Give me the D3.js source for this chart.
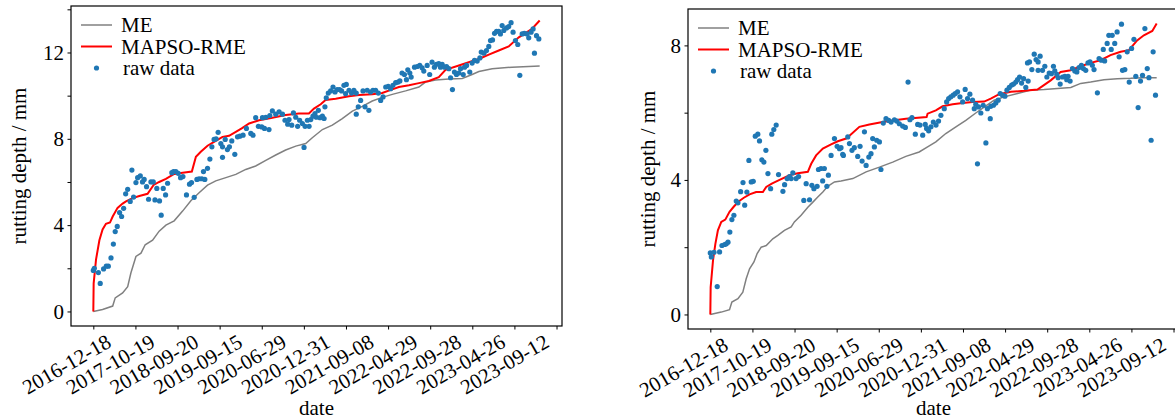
<!DOCTYPE html>
<html>
<head>
    <meta charset="utf-8">
    <title>Rutting depth</title>
    <script src="https://cdn.jsdelivr.net/npm/d3@7/dist/d3.min.js"></script>
    <style>
        body { margin: 0; background: #fff; }
    </style>
</head>
<body>
<div class="chart-area"></div>
<script type="text/javascript">
    // x axis is the sample index, labelled with dates
    var lastIndex = 265;
    var tickIdx = [0, 25, 50, 75, 100, 125, 150, 175, 200, 225, 250, 275];
    var dateLabels = ['2016-12-18', '2017-10-19', '2018-09-20', '2019-09-15', '2020-06-29', '2020-12-31',
                      '2021-09-08', '2022-04-29', '2022-09-28', '2023-04-26', '2023-09-12'];
    var labelSpan = [15, 275];   // index range the date labels are spread over
    var seriesNames = ['ME', 'MAPSO-RME', 'raw data'];

    // ---- left panel ----
    var leftME = [[0,0],[5.5,0.09],[11.5,0.25],[13,0.63],[17.4,0.86],[20.4,1.15],[22.3,1.78],[25.3,2.55],[28.3,2.7],
        [30.8,3.09],[35.2,3.3],[39.1,3.72],[43.1,4.0],[48,4.2],[53,4.65],[57.9,5.13],[62.8,5.5],[67.8,5.85],[72.7,6.05],
        [78.7,6.2],[84.6,6.35],[90.5,6.58],[96.4,6.74],[102.4,7.0],[108.3,7.25],[114.2,7.48],[120.2,7.66],[126.1,7.78],
        [130,8.05],[136,8.43],[141.9,8.63],[147.8,8.94],[153.8,9.28],[159.7,9.5],[165.6,9.75],[171.5,9.92],[177.5,10.06],
        [185.4,10.22],[193.3,10.4],[197.2,10.63],[203.2,10.72],[211.1,10.77],[219,10.8],[224.9,10.98],[228.9,11.12],
        [236.8,11.25],[248.6,11.32],[265,11.37]];
    var leftRME = [[0,0],[0.2,1.3],[1.6,2.4],[3.6,3.3],[5.5,3.8],[7.5,4.06],[9.9,4.12],[11.5,4.4],[14.4,4.8],[17.4,5.0],
        [19.4,5.1],[23.3,5.25],[27.3,5.35],[32.2,5.45],[35.8,5.86],[39.1,6.0],[43.1,6.14],[48,6.37],[53,6.43],[58.5,6.48],
        [60.9,7.17],[63.8,7.4],[67.8,7.68],[71.7,7.86],[76.7,8.09],[80.6,8.14],[84.6,8.32],[88.1,8.48],[92.5,8.71],
        [98.4,8.86],[106.3,8.98],[114.2,9.1],[122,9.17],[128,9.17],[131,9.4],[135,9.6],[137.9,9.8],[143.9,9.86],
        [151.8,9.97],[157.7,10.03],[165.6,10.06],[171.5,10.12],[177.5,10.29],[181.4,10.4],[187.4,10.48],[193.3,10.58],
        [199.2,10.68],[205.1,10.86],[209.1,11.2],[217,11.4],[222.9,11.55],[228.9,11.7],[234.8,11.9],[240.7,12.09],
        [246.6,12.28],[252.6,12.7],[256.5,12.9],[260.5,13.1],[265,13.48]];
    var leftRaw = [[0,1.9],[0.6,2.0],[3,1.8],[4.1,1.3],[6.1,1.97],[7.7,2.1],[8.9,2.1],[10.5,2.48],[11.9,3.12],[13,3.7],
        [14.2,3.94],[15.6,4.58],[16.8,4.4],[18,4.78],[19.2,5.45],[20.4,5.66],[21.9,5.1],[22.9,6.55],[23.9,5.3],[25.3,5.97],
        [26.3,6.2],[27.9,6.28],[29.2,6.0],[30.2,6.12],[31.6,5.78],[32.8,5.2],[34.2,6.0],[35.6,6.0],[36.6,5.17],[37.7,5.7],
        [39.3,5.12],[40.3,4.46],[41.5,5.7],[42.9,5.4],[44.1,5.94],[46.6,6.43],[47.6,6.48],[49,6.48],[50.4,6.4],[51.8,6.2],
        [53.2,6.25],[55.3,5.4],[57.1,5.9],[58.3,5.97],[59.9,5.29],[61.5,6.12],[62.8,6.15],[64.4,6.15],[65.4,6.48],
        [66.2,6.12],[67.8,6.63],[69.2,7.06],[70.4,7.63],[71.7,7.97],[72.9,8.0],[74.1,8.3],[75.7,7.78],[76.7,7.63],
        [76.7,7.14],[78.3,7.97],[79.6,7.5],[80.8,7.63],[82.2,7.9],[84,7.28],[85.6,8.09],[87,8.12],[88.9,8.17],[90.9,8.48],
        [93.5,8.25],[94.8,8.17],[96.4,8.98],[98,8.58],[100,8.55],[100.4,8.98],[101.6,8.48],[102.4,9.0],[104.3,8.43],
        [104.8,9.08],[106.3,9.29],[108.3,9.14],[110.3,9.25],[112.3,9.14],[113.8,8.86],[115.4,8.68],[116.2,8.89],
        [117.8,8.63],[118.8,9.2],[120.2,9.0],[121.3,8.58],[122.5,8.86],[124.1,8.71],[125.1,7.6],[125.7,8.58],[127.1,8.86],
        [128.1,8.58],[129.1,8.89],[130.4,9.05],[131.6,9.17],[132.4,9.0],[133.6,9.32],[134.6,8.98],[136,9.05],[137,8.94],
        [137.5,9.48],[138.3,9.9],[139.5,10.12],[140.9,10.22],[142.3,10.4],[143.5,10.17],[144.8,10.28],[146.2,10.28],
        [147.4,10.22],[148.8,10.48],[149.8,10.09],[150.2,10.52],[151.8,10.25],[153.3,10.12],[154.7,10.25],[156.1,10.12],
        [156.1,9.14],[157.3,9.48],[158.7,9.78],[160.1,10.22],[161.3,9.48],[162.6,10.25],[163.6,9.32],[164.6,10.17],
        [166,10.25],[167.6,10.25],[169.2,10.12],[170.6,9.78],[172,9.94],[173.6,10.4],[175.1,10.43],[176.5,10.32],
        [177.9,10.48],[179.5,10.6],[180.9,10.63],[182,10.68],[183.3,11.05],[184.7,10.98],[185.9,10.74],[186.7,11.2],
        [187.9,11.05],[188.7,10.86],[190.7,11.32],[192.3,11.35],[193.8,11.4],[195.2,11.29],[196.2,11.14],[198.2,11.4],
        [199.7,10.98],[201.1,11.55],[202.5,11.32],[203.7,11.45],[205.1,11.48],[206.1,11.32],[207.1,11.45],[208.5,11.32],
        [209.7,11.35],[211.1,11.25],[212.1,10.83],[213.2,10.28],[214.4,11.09],[215.6,10.98],[217,11.05],[218,11.25],
        [219.6,10.98],[220.4,11.32],[221.6,11.4],[223.5,11.09],[224.9,11.51],[226.3,11.63],[227.9,11.6],[229.5,11.75],
        [230.3,12.02],[231.9,11.97],[233.4,12.09],[234.8,12.28],[235.8,12.55],[237,12.58],[238.2,12.89],[239.4,12.98],
        [240.7,12.98],[241.7,12.86],[242.7,13.25],[243.7,13.02],[245.3,13.14],[246.6,13.2],[248,13.38],[249.2,12.94],
        [250.6,12.55],[252,12.37],[253.2,10.94],[254.6,12.86],[255.9,12.89],[257.5,12.86],[258.5,12.68],[259.9,12.94],
        [261.1,13.09],[261.9,11.97],[263.1,12.78],[264.5,12.63]];

    // ---- right panel ----
    var rightME = [[0,0],[6.5,0.07],[11.4,0.14],[12.8,0.37],[16.4,0.47],[19.3,0.66],[21.3,1.06],[23.3,1.36],[25.9,1.56],
        [27.8,1.81],[30.2,2.0],[33.2,2.05],[37.1,2.25],[40.1,2.35],[44,2.5],[48,2.6],[49.9,2.75],[53.9,2.95],[57.9,3.19],
        [60.9,3.34],[63.8,3.49],[66.8,3.64],[69.7,3.81],[73.7,3.94],[77.6,3.97],[84.6,4.04],[92.5,4.24],[100.4,4.38],
        [108.3,4.53],[116.1,4.7],[124,4.83],[129,4.98],[133.9,5.13],[139.8,5.38],[145.8,5.58],[151.7,5.77],[157.6,5.99],
        [163,6.18],[168.5,6.37],[174.5,6.47],[182.4,6.57],[190.3,6.67],[198.2,6.69],[206.1,6.72],[214,6.75],[219.9,6.87],
        [225.8,6.91],[233.7,6.98],[241.6,7.01],[249.5,7.02],[257.4,7.04],[265,7.04]];
    var rightRME = [[0,0],[0.2,0.81],[1.6,1.61],[3,2.1],[4.5,2.5],[6.5,2.75],[8.9,2.82],[11.4,3.05],[14,3.21],[16.8,3.36],
        [19.9,3.47],[23.3,3.57],[27.2,3.64],[31.2,3.64],[33.2,3.79],[36.5,3.89],[41.1,4.0],[47,4.14],[51.9,4.2],[57.9,4.24],
        [59.9,4.48],[62.8,4.73],[66.8,4.93],[71.7,5.06],[75.7,5.15],[80.6,5.23],[83.6,5.36],[88.5,5.58],[94.4,5.65],
        [102.3,5.72],[108.3,5.77],[116.1,5.82],[128.4,5.87],[129,5.97],[133.9,6.07],[137.9,6.19],[143.9,6.25],[149.8,6.29],
        [155.7,6.32],[162.6,6.33],[166.5,6.42],[171.5,6.55],[178.4,6.62],[186.3,6.65],[194.2,6.69],[197.2,6.79],[202.1,6.96],
        [208,7.21],[214,7.26],[219.9,7.38],[225.8,7.48],[231.7,7.56],[237.6,7.71],[243.6,7.81],[248.5,7.86],[253.4,8.15],
        [257.4,8.3],[262.4,8.43],[265,8.65]];
    var rightRaw = [[0,1.83],[0.6,1.71],[2.2,1.85],[4.1,0.83],[5.5,1.86],[6.9,2.05],[8.5,2.08],[9.5,2.1],[10.5,2.15],
        [11.6,2.45],[12.8,2.82],[14,2.95],[15.4,3.37],[16.4,3.32],[18,3.65],[19.4,3.92],[20.4,3.25],[21.7,3.64],[22.9,4.58],
        [24.3,3.94],[25.5,3.96],[26.7,5.3],[28.2,5.36],[29.2,5.16],[30.6,4.6],[31.8,4.53],[33,4.88],[34.2,4.19],[35.8,3.74],
        [36.5,5.36],[37.7,5.5],[39.1,5.63],[40.5,4.16],[43.1,3.66],[44.1,3.86],[45.6,4.04],[47,4.1],[48,4.04],[49,4.21],
        [50.9,4.04],[52.4,4.1],[55.5,3.39],[56.9,3.89],[58.9,3.41],[60.3,3.84],[61.5,3.74],[63.4,3.81],[64.2,4.31],
        [65.7,4.34],[66.7,3.97],[67.7,4.34],[69.2,3.81],[70.1,4.14],[71.7,4.73],[73.7,5.23],[75.3,5.0],[76.7,4.93],
        [77.6,4.96],[78.6,4.76],[79,4.73],[81.6,5.28],[82.6,5.08],[84.1,4.88],[85.5,4.96],[87.5,4.7],[88.9,5.0],[90.1,4.56],
        [91.5,5.43],[92.5,4.43],[94.1,4.68],[95.4,4.78],[96.4,5.23],[97.4,4.98],[98.8,5.18],[100.4,5.13],[101.3,4.31],
        [102.7,5.69],[104.3,5.82],[105.9,5.77],[107.3,5.72],[109.3,5.79],[110.7,5.75],[112.2,5.67],[114.2,5.6],[115.8,5.56],
        [117.4,6.91],[118.5,5.79],[119.7,5.85],[121.7,5.36],[123.1,5.65],[124.5,5.63],[126.1,5.33],[127.6,5.65],[128.4,5.53],
        [129.6,5.46],[131,5.58],[132.4,5.72],[134,5.63],[135.5,5.75],[136.9,5.92],[138.9,6.12],[140.3,6.32],[141.5,6.42],
        [142.8,6.47],[144.2,6.52],[145.4,6.57],[146.8,6.62],[148.2,6.47],[149.8,6.32],[151.3,6.69],[152.7,6.42],[154.1,6.55],
        [155.7,6.37],[156.7,6.12],[157.6,6.25],[158.6,4.48],[159.2,6.17],[160.6,5.99],[162,6.22],[163.6,5.1],[164.5,6.12],
        [166.2,5.82],[166.5,6.19],[168.1,6.22],[169.5,6.29],[170.9,6.37],[172.1,6.57],[173.5,6.52],[174.9,6.49],[176.1,6.67],
        [177.5,6.75],[178.9,6.82],[180,6.85],[181.4,6.91],[182.4,6.98],[183.6,7.06],[184.8,6.88],[186,7.01],[187.3,6.75],
        [188.3,7.48],[188.7,6.94],[189.5,7.51],[190.9,7.28],[192.3,7.74],[193.4,7.58],[194.6,7.51],[194.6,7.26],[195.8,7.68],
        [197.2,7.26],[198.6,7.38],[199.8,7.06],[201.2,7.18],[202.5,7.16],[203.7,7.38],[204.5,7.24],[205.7,7.14],[206.5,7.04],
        [207.7,6.85],[209.1,7.06],[210.5,7.08],[211.6,6.98],[212.4,7.08],[213.6,6.94],[215,7.31],[216.4,7.24],[217.6,7.21],
        [218.9,7.34],[220.3,7.41],[221.5,7.31],[222.9,7.26],[224.2,7.48],[225.4,7.51],[226.8,7.41],[227.8,7.28],[229.8,6.59],
        [230.8,7.61],[232.1,7.56],[233.3,7.88],[234.1,7.54],[235.6,8.06],[236.6,8.3],[238,7.88],[238.6,8.3],[240.1,8.06],
        [241.5,8.4],[242.7,7.66],[244.1,8.63],[244.7,7.26],[246.1,7.28],[247.5,7.81],[248.7,6.91],[250.1,7.91],[251.5,8.18],
        [252.6,7.08],[254,6.15],[255.4,6.94],[256.6,7.11],[258,8.5],[259.4,7.31],[260.4,7.04],[261.7,5.18],[262.9,7.81],
        [264.3,6.52]];

    var width = 491, height = 320;
    var serif = "'Liberation Serif', 'Times New Roman', 'DejaVu Serif', serif";

    var svg = d3.select(".chart-area")
        .append("svg")
        .attr("width", 1175)
        .attr("height", 420)
        .style("font-family", serif);

    function drawPanel(left, top, raw, me, rme, yTicks, labelOffset) {
        var ymax = d3.max(raw.concat(me, rme), function(d){ return d[1]; });
        var pad = 0.05 * ymax;

        var x = d3.scaleLinear()
            .domain([-0.05 * lastIndex, 1.05 * lastIndex])
            .range([0, width]);
        var y = d3.scaleLinear()
            .domain([-pad, ymax + pad])
            .range([height, 0]);
        var xLabel = d3.scalePoint()
            .domain(dateLabels)
            .range([x(labelSpan[0]), x(labelSpan[1])]);

        var g = svg.append("g")
            .attr("transform", "translate(" + left + "," + top + ")");

        var xAxis = g.append("g")
            .attr("transform", "translate(0," + height + ")")
            .call(d3.axisBottom(x).tickValues(tickIdx).tickSizeOuter(0).tickSize(3.5).tickFormat(""));
        xAxis.select(".domain").remove();
        xAxis.selectAll("line").attr("stroke", "#000").attr("stroke-width", 1);

        g.append("g")
            .attr("transform", "translate(0," + height + ")")
            .selectAll("text")
            .data(dateLabels)
            .enter()
            .append("text")
            .attr("text-anchor", "end")
            .attr("transform", function(d){ return "translate(" + (xLabel(d) - 6) + ",20) rotate(-30)"; })
            .style("font-size", "21px")
            .text(function(d){ return d; });

        var yAxis = g.append("g")
            .call(d3.axisLeft(y).tickValues(yTicks).tickSize(3.5).tickPadding(3.5)
                .tickFormat(function(d){ return d % 4 === 0 ? d : ""; }));
        yAxis.attr("font-family", null);
        yAxis.select(".domain").remove();
        yAxis.selectAll("line").attr("stroke", "#000").attr("stroke-width", 1);
        yAxis.selectAll("text").attr("fill", "#000")
            .style("font-family", serif)
            .style("font-size", "21px");

        g.append("text")
            .attr("transform", "translate(" + labelOffset + "," + (height / 2) + ") rotate(-90)")
            .attr("text-anchor", "middle")
            .attr("dy", "0.35em")
            .style("font-size", "21px")
            .text("rutting depth / mm");

        g.append("text")
            .attr("x", width / 2)
            .attr("y", 415 - top)
            .attr("text-anchor", "middle")
            .style("font-size", "21px")
            .text("date");

        var clipId = "clip" + left;
        g.append("clipPath").attr("id", clipId)
            .append("rect").attr("width", width).attr("height", height);

        var plot = g.append("g").attr("clip-path", "url(#" + clipId + ")");

        var line = d3.line()
            .x(function(d){ return x(d[0]); })
            .y(function(d){ return y(d[1]); });

        plot.append("path")
            .datum(me)
            .attr("d", line)
            .attr("fill", "none")
            .attr("stroke", "#808080")
            .attr("stroke-width", 1.5);

        plot.append("path")
            .datum(rme)
            .attr("d", line)
            .attr("fill", "none")
            .attr("stroke", "#ff0000")
            .attr("stroke-width", 2);

        plot.selectAll("circle")
            .data(raw)
            .enter()
            .append("circle")
            .attr("cx", function(d){ return x(d[0]); })
            .attr("cy", function(d){ return y(d[1]); })
            .attr("r", 2.6)
            .attr("fill", "#1f77b4");

        g.append("rect")
            .attr("width", width)
            .attr("height", height)
            .attr("fill", "none")
            .attr("stroke", "#000")
            .attr("stroke-width", 1.2);

        // legend
        var legend = g.append("g").attr("transform", "translate(10,19)");
        var rows = legend.selectAll("g")
            .data(seriesNames)
            .enter()
            .append("g")
            .attr("transform", function(d, i){ return "translate(0," + (i * 21.5) + ")"; });
        rows.filter(function(d, i){ return i < 2; })
            .append("line")
            .attr("x1", 0).attr("x2", 31)
            .attr("stroke", function(d, i){ return i === 0 ? "#808080" : "#ff0000"; })
            .attr("stroke-width", function(d, i){ return i === 0 ? 1.5 : 2; });
        rows.filter(function(d, i){ return i === 2; })
            .append("circle")
            .attr("cx", 15.5).attr("r", 2.6)
            .attr("fill", "#1f77b4");
        rows.append("text")
            .attr("x", function(d, i){ return i === 2 ? 42 : 40; })
            .attr("y", 7)
            .style("font-size", "21px")
            .text(function(d){ return d; });
    }

    drawPanel(71, 6, leftRaw, leftME, leftRME, [0, 2, 4, 6, 8, 10, 12, 14], -52);
    drawPanel(688, 9, rightRaw, rightME, rightRME, [0, 2, 4, 6, 8], -40);
</script>
</body>
</html>
